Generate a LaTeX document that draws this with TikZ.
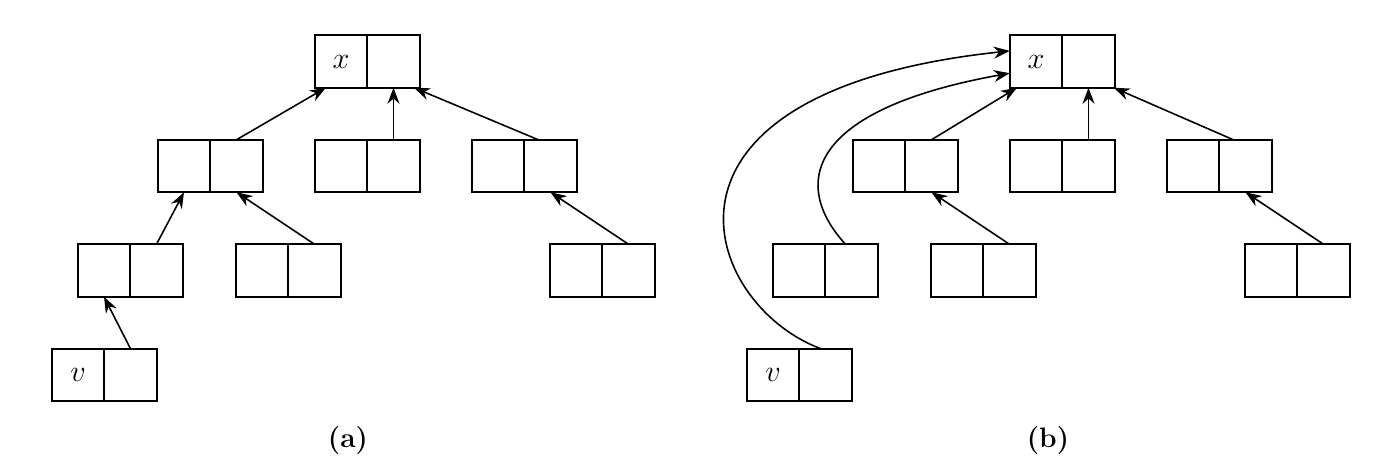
\documentclass[tikz,border=0pt]{standalone}
\usetikzlibrary{positioning,arrows.meta}

\begin{document}
\begin{tikzpicture}
  [x=0.2mm, y=0.2mm, node distance=0pt, line width=0.9pt,
   >={Stealth[length=3.2mm,width=2.4mm]},
   cell/.style={draw, rectangle, minimum size=10.5mm, inner sep=0pt, outer sep=0pt,
                font=\fontsize{16}{19}\selectfont},
   caption/.style={font=\bfseries\fontsize{16}{19}\selectfont}]
  \useasboundingbox (0,0) rectangle (1380,-457);

  % (a) before path compression
  \node[cell] (ax-l) at (341,-61.5) {$x$};
  \node[cell, right=of ax-l] (ax-r) {};
  \node[cell] (ap1-l) at (184,-166) {};
  \node[cell, right=of ap1-l] (ap1-r) {};
  \node[cell] (ap2-l) at (341,-166) {};
  \node[cell, right=of ap2-l] (ap2-r) {};
  \node[cell] (ap3-l) at (498,-166) {};
  \node[cell, right=of ap3-l] (ap3-r) {};
  \node[cell] (ac1-l) at (104,-270.5) {};
  \node[cell, right=of ac1-l] (ac1-r) {};
  \node[cell] (ac2-l) at (262,-270.5) {};
  \node[cell, right=of ac2-l] (ac2-r) {};
  \node[cell] (ac3-l) at (576,-270.5) {};
  \node[cell, right=of ac3-l] (ac3-r) {};
  \node[cell] (av-l) at (78,-375) {$v$};
  \node[cell, right=of av-l] (av-r) {};

  \draw[->] (ap1-r.north) -- (ax-l.-120);
  \draw[->] (ap2-r.north) -- (ax-r.south);
  \draw[->] (ap3-r.115) -- (ax-r.-52);
  \draw[->] (ac1-r.north) -- (ap1-l.south);
  \draw[->] (ac2-r.north) -- (ap1-r.south);
  \draw[->] (ac3-r.north) -- (ap3-r.south);
  \draw[->] (av-r.north) -- (ac1-l.south);

  % (b) after path compression
  \node[cell] (bx-l) at (1036,-61.5) {$x$};
  \node[cell, right=of bx-l] (bx-r) {};
  \node[cell] (bp1-l) at (879,-166) {};
  \node[cell, right=of bp1-l] (bp1-r) {};
  \node[cell] (bp2-l) at (1036,-166) {};
  \node[cell, right=of bp2-l] (bp2-r) {};
  \node[cell] (bp3-l) at (1193,-166) {};
  \node[cell, right=of bp3-l] (bp3-r) {};
  \node[cell] (bc1-l) at (799,-270.5) {};
  \node[cell, right=of bc1-l] (bc1-r) {};
  \node[cell] (bc2-l) at (957,-270.5) {};
  \node[cell, right=of bc2-l] (bc2-r) {};
  \node[cell] (bc3-l) at (1271,-270.5) {};
  \node[cell, right=of bc3-l] (bc3-r) {};
  \node[cell] (bv-l) at (773,-375) {$v$};
  \node[cell, right=of bv-l] (bv-r) {};

  \draw[->] (bp1-r.north) -- (bx-l.-126);
  \draw[->] (bp2-r.north) -- (bx-r.south);
  \draw[->] (bp3-r.115) -- (bx-r.-46);
  \draw[->] (bc2-r.north) -- (bp1-r.south);
  \draw[->] (bc3-r.north) -- (bp3-r.south);
  \draw[->] (bc1-r.103) .. controls +(-54,59) and +(-205,-37) .. (bx-l.204);
  \draw[->] (bv-r.100) .. controls +(-118,44) and +(-385,-41) .. (bx-l.158);

  \node[caption] (lab-a) at (348,-440) {(a)};
  \node[caption] (lab-b) at (1048,-440) {(b)};
\end{tikzpicture}
\end{document}
